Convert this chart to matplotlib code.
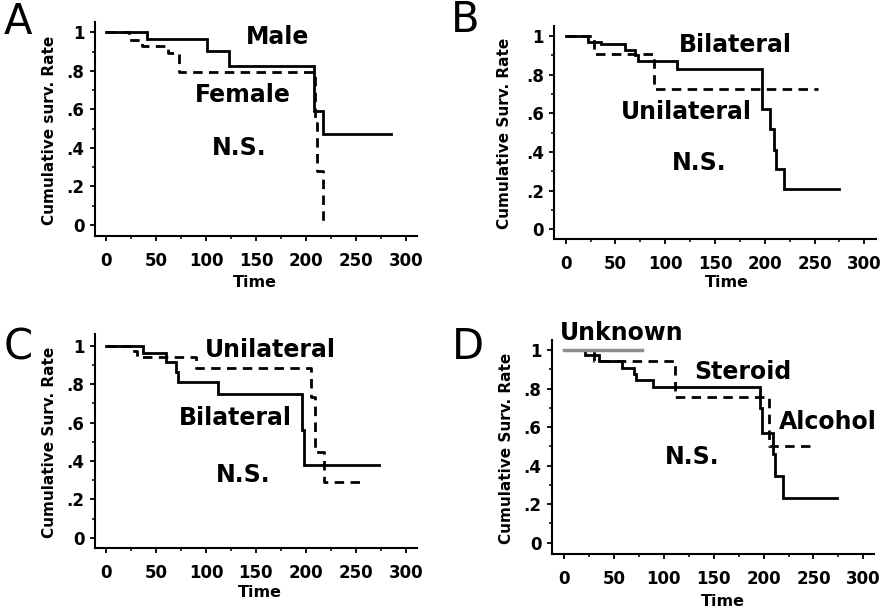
import matplotlib
matplotlib.use("Agg")
import matplotlib.pyplot as plt
from matplotlib.ticker import MultipleLocator

# ---- data (time of each step, survival after the step) ----
# A: sex
male_t = [0, 41, 101, 123, 208, 217, 285]
male_s = [1, 0.965, 0.905, 0.825, 0.59, 0.47, 0.47]
female_t = [0, 23, 36, 62, 73, 209, 211, 217]
female_s = [1, 0.96, 0.93, 0.89, 0.795, 0.53, 0.28, 0.0]

# B: bilateral / unilateral
b_bil_t = [0, 22, 35, 60, 70, 73, 112, 197.5, 205, 209.5, 211, 219, 274.5]
b_bil_s = [1, 0.971, 0.957, 0.928, 0.902, 0.871, 0.829, 0.621, 0.517, 0.41, 0.31, 0.21, 0.21]
b_uni_t = [0, 28.5, 89, 253]
b_uni_s = [1, 0.905, 0.724, 0.724]

# C: bilateral / unilateral
c_bil_t = [0, 37, 60, 70, 72.5, 112, 196.5, 198, 273]
c_bil_s = [1, 0.96, 0.917, 0.865, 0.812, 0.747, 0.56, 0.378, 0.378]
c_uni_t = [0, 25, 31, 90, 205.5, 209, 218, 254]
c_uni_s = [1, 0.97, 0.943, 0.882, 0.734, 0.448, 0.292, 0.292]

# D: etiology
d_sol_t = [0, 21, 35, 58, 70, 72, 89.5, 196.5, 198, 209.5, 211.5, 219, 274]
d_sol_s = [1, 0.974, 0.945, 0.905, 0.875, 0.844, 0.806, 0.697, 0.571, 0.46, 0.348, 0.234, 0.234]
d_dash_t = [0, 30, 111, 205, 252]
d_dash_s = [1, 0.943, 0.758, 0.503, 0.503]
d_unk_t = [0, 78]
d_unk_s = [1, 1]

yticks = [0, 0.2, 0.4, 0.6, 0.8, 1.0]
ytick_labels = ["0", ".2", ".4", ".6", ".8", "1"]
xticks = [0, 50, 100, 150, 200, 250, 300]
xtick_labels = ["0", "50", "100", "150", "200", "250", "300"]

plt.rcParams["font.family"] = "DejaVu Sans"

fig = plt.figure(figsize=(8.89, 6.11), dpi=100)

# axes rectangles [left, bottom, width, height] in figure fraction
rects = {
    "A": [0.1069, 0.6137, 0.3622, 0.3502],
    "B": [0.6235, 0.6083, 0.3619, 0.3491],
    "C": [0.1069, 0.1026, 0.3619, 0.3502],
    "D": [0.6206, 0.0933, 0.3629, 0.3502],
}
xlims = {"A": (-11, 311), "B": (-11.5, 311.8), "C": (-11, 311), "D": (-12.3, 311)}
ylims = {"A": (-0.057, 1.053), "B": (-0.052, 1.052), "C": (-0.055, 1.059), "D": (-0.059, 1.052)}
ylabels = {"A": "Cumulative surv. Rate", "B": "Cumulative Surv. Rate",
           "C": "Cumulative Surv. Rate", "D": "Cumulative Surv. Rate"}
ylab_x = {"A": -0.118, "B": -0.131, "C": -0.118, "D": -0.117}
xlab_pos = {"A": (0.497, -0.182), "B": (0.536, -0.167), "C": (0.513, -0.171), "D": (0.531, -0.187)}
letter_pos = {"A": (18, 22), "B": (465, 20), "C": (18, 347), "D": (468, 347)}

DASH = [3.4, 2.3]
LW = 2.0


def style(ax, key):
    ax.set_xlim(*xlims[key])
    ax.set_ylim(*ylims[key])
    for s in ["top", "right"]:
        ax.spines[s].set_visible(False)
    for s in ["left", "bottom"]:
        ax.spines[s].set_linewidth(1.5)
    ax.set_yticks(yticks, ytick_labels, fontweight="bold", fontsize=12)
    ax.set_xticks(xticks, xtick_labels, fontweight="bold", fontsize=12)
    ax.yaxis.set_minor_locator(MultipleLocator(0.1))
    ax.xaxis.set_minor_locator(MultipleLocator(25))
    ax.tick_params(which="major", direction="out", length=3.5, width=1.3)
    ax.tick_params(which="minor", direction="out", length=2.5, width=1.1)
    ax.tick_params(axis="y", pad=4)
    ax.tick_params(axis="x", pad=8)
    ax.set_ylabel(ylabels[key], fontsize=11, fontweight="bold")
    ax.yaxis.set_label_coords(ylab_x[key], 0.495)
    ax.set_xlabel("Time", fontsize=11.5, fontweight="bold")
    ax.xaxis.set_label_coords(*xlab_pos[key])
    lx, ly = letter_pos[key]
    fig.text(lx / 889, 1 - ly / 611, key, fontsize=30, ha="center", va="center")


def solid(ax, t, s):
    ax.step(t, s, where="post", color="black", lw=LW, solid_joinstyle="miter")


def dashed(ax, t, s):
    line, = ax.step(t, s, where="post", color="black", lw=LW)
    line.set_dashes(DASH)


lab = dict(fontsize=17, fontweight="bold", ha="center", va="center")

axA = fig.add_axes(rects["A"])
dashed(axA, female_t, female_s)
solid(axA, male_t, male_s)
axA.text(172, 0.976, "Male", **lab)
axA.text(137, 0.675, "Female", **lab)
axA.text(133, 0.40, "N.S.", **lab)
style(axA, "A")

axB = fig.add_axes(rects["B"])
dashed(axB, b_uni_t, b_uni_s)
solid(axB, b_bil_t, b_bil_s)
axB.text(170, 0.953, "Bilateral", **lab)
axB.text(121.6, 0.608, "Unilateral", **lab)
axB.text(134, 0.343, "N.S.", **lab)
style(axB, "B")

axC = fig.add_axes(rects["C"])
dashed(axC, c_uni_t, c_uni_s)
solid(axC, c_bil_t, c_bil_s)
axC.text(164, 0.978, "Unilateral", **lab)
axC.text(129, 0.623, "Bilateral", **lab)
axC.text(137, 0.327, "N.S.", **lab)
style(axC, "C")

axD = fig.add_axes(rects["D"])
dashed(axD, d_dash_t, d_dash_s)
solid(axD, d_sol_t, d_sol_s)
axD.step(d_unk_t, d_unk_s, where="post", color="#8f8f8f", lw=2.5, zorder=5)
axD.text(57.8, 1.088, "Unknown", **lab)
axD.text(179.4, 0.887, "Steroid", **lab)
axD.text(264.5, 0.628, "Alcohol", **lab)
axD.text(128.3, 0.446, "N.S.", **lab)
style(axD, "D")

fig.savefig("out.png", dpi=100)
